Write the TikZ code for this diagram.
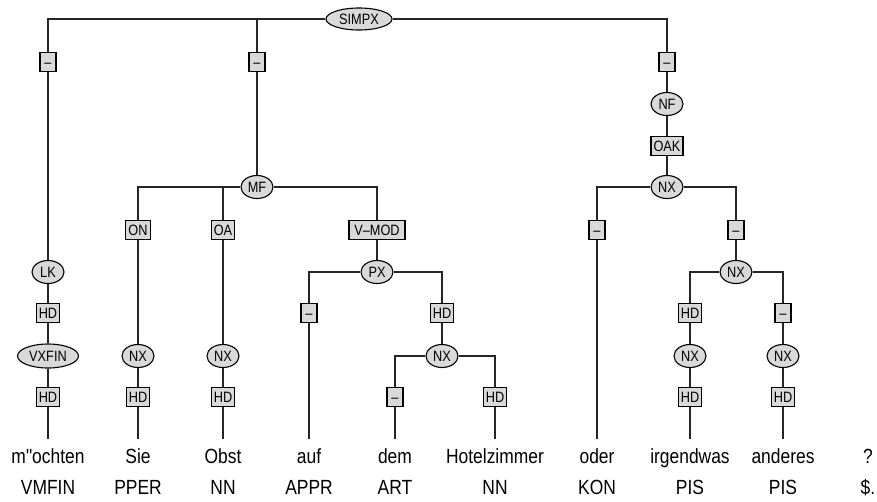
\documentclass[tikz,border=0pt]{standalone}
\usepackage{fontspec}
\setmainfont{Liberation Sans}
\newfontfamily\treefont[FakeStretch=0.85]{Liberation Sans}
\usetikzlibrary{shapes.geometric,backgrounds}

\begin{document}
\begin{tikzpicture}[x=1pt,y=-1pt,
  edge/.style={draw=black!85,line width=1.4pt},
  cat/.style={ellipse,draw=black,fill=black!15,line width=1.1pt,inner sep=0pt,
    minimum width=32pt,minimum height=23pt,
    font=\treefont\fontsize{15}{15}\selectfont,text height=10.5pt,text depth=0pt},
  fn/.style={rectangle,draw=black,fill=black!15,line width=1.1pt,inner ysep=0pt,inner xsep=2.5pt,
    minimum width=16pt,minimum height=18.5pt,
    font=\treefont\fontsize{15}{15}\selectfont,text height=10.5pt,text depth=0pt},
  word/.style={anchor=base,inner xsep=0pt,inner ysep=9pt,text height=15pt,text depth=4pt,
    font=\treefont\fontsize{20.5}{20.5}\selectfont},
  tag/.style={anchor=base,inner sep=0pt,font=\treefont\fontsize{20.5}{20.5}\selectfont}]
\useasboundingbox (0,0) rectangle (877,501);

% phrase and function nodes
\node[cat,minimum width=66pt,minimum height=22pt] (simpx) at (359,19) {SIMPX};
\node[fn] (d1) at (48,62) {–};
\node[fn] (d2) at (257,62) {–};
\node[fn] (d3) at (667,62) {–};

\node[cat] (lk) at (48,272) {LK};
\node[fn] (hd1) at (48,313) {HD};
\node[cat,minimum width=61pt,minimum height=24pt] (vxfin) at (48,356) {VXFIN};
\node[fn] (hd2) at (48,397) {HD};

\node[cat] (mf) at (257,187) {MF};
\node[fn] (on) at (138,230) {ON};
\node[fn] (oa) at (223,230) {OA};
\node[fn,minimum width=56pt] (vmod) at (377,230) {V–MOD};
\node[cat] (nx1) at (138,356) {NX};
\node[fn] (hd3) at (138,397) {HD};
\node[cat] (nx2) at (223,356) {NX};
\node[fn] (hd4) at (223,397) {HD};

\node[cat] (px) at (377,272) {PX};
\node[fn] (d4) at (309,313) {–};
\node[fn] (hd5) at (442,313) {HD};
\node[cat] (nx3) at (442,356) {NX};
\node[fn] (d5) at (395,397) {–};
\node[fn] (hd6) at (495,397) {HD};

\node[cat] (nf) at (667,104) {NF};
\node[fn] (oak) at (667,146) {OAK};
\node[cat] (nx4) at (667,187) {NX};
\node[fn] (d6) at (597,230) {–};
\node[fn] (d7) at (736,230) {–};
\node[cat] (nx5) at (736,272) {NX};
\node[fn] (hd7) at (690,313) {HD};
\node[fn] (d8) at (783,313) {–};
\node[cat] (nx6) at (690,356) {NX};
\node[cat] (nx7) at (783,356) {NX};
\node[fn] (hd8) at (690,397) {HD};
\node[fn] (hd9) at (783,397) {HD};

% words
\node[word] (w1) at (48,463) {m"ochten};
\node[word] (w2) at (138,463) {Sie};
\node[word] (w3) at (223,463) {Obst};
\node[word] (w4) at (309,463) {auf};
\node[word] (w5) at (395,463) {dem};
\node[word] (w6) at (495,463) {Hotelzimmer};
\node[word] (w7) at (597,463) {oder};
\node[word] (w8) at (690,463) {irgendwas};
\node[word] (w9) at (783,463) {anderes};
\node[word] (w10) at (868,463) {?};

% part-of-speech tags
\node[tag] (t1) at (48,494) {VMFIN};
\node[tag] (t2) at (138,494) {PPER};
\node[tag] (t3) at (223,494) {NN};
\node[tag] (t4) at (309,494) {APPR};
\node[tag] (t5) at (395,494) {ART};
\node[tag] (t6) at (495,494) {NN};
\node[tag] (t7) at (597,494) {KON};
\node[tag] (t8) at (690,494) {PIS};
\node[tag] (t9) at (783,494) {PIS};
\node[tag] (t10) at (868,494) {\$.};

% tree edges
\begin{scope}[on background layer]
\draw[edge] (simpx) -| (d1);
\draw[edge] (simpx) -| (d2);
\draw[edge] (simpx) -| (d3);
\draw[edge] (d1) -- (lk) -- (hd1) -- (vxfin) -- (hd2) -- (w1);
\draw[edge] (d2) -- (mf);
\draw[edge] (mf) -| (on);
\draw[edge] (mf) -| (oa);
\draw[edge] (mf) -| (vmod);
\draw[edge] (on) -- (nx1) -- (hd3) -- (w2);
\draw[edge] (oa) -- (nx2) -- (hd4) -- (w3);
\draw[edge] (vmod) -- (px);
\draw[edge] (px) -| (d4);
\draw[edge] (px) -| (hd5);
\draw[edge] (d4) -- (w4);
\draw[edge] (hd5) -- (nx3);
\draw[edge] (nx3) -| (d5);
\draw[edge] (nx3) -| (hd6);
\draw[edge] (d5) -- (w5);
\draw[edge] (hd6) -- (w6);
\draw[edge] (d3) -- (nf) -- (oak) -- (nx4);
\draw[edge] (nx4) -| (d6);
\draw[edge] (nx4) -| (d7);
\draw[edge] (d6) -- (w7);
\draw[edge] (d7) -- (nx5);
\draw[edge] (nx5) -| (hd7);
\draw[edge] (nx5) -| (d8);
\draw[edge] (hd7) -- (nx6) -- (hd8) -- (w8);
\draw[edge] (d8) -- (nx7) -- (hd9) -- (w9);
\end{scope}
\end{tikzpicture}
\end{document}
